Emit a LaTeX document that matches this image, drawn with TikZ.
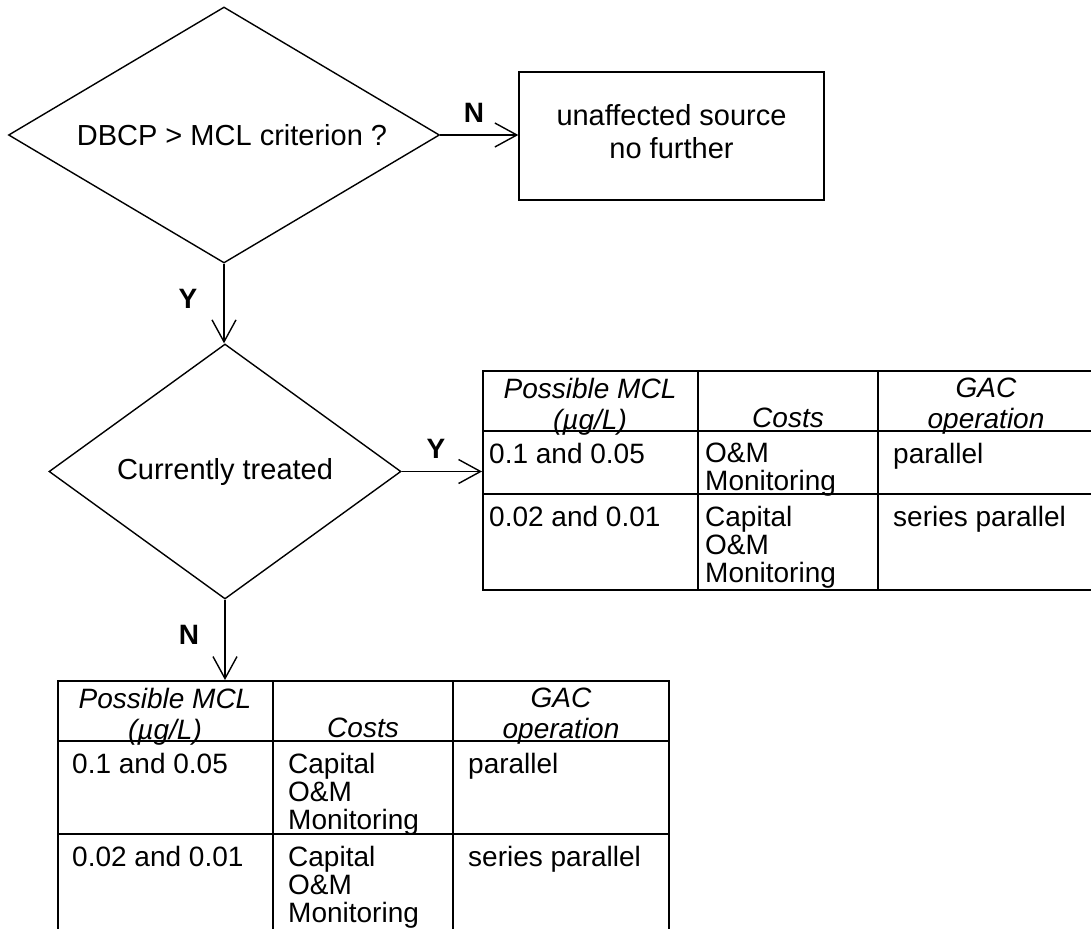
\documentclass[tikz,border=0pt]{standalone}
\usepackage{fontspec}
\setmainfont{Liberation Sans}
\usetikzlibrary{shapes.geometric,arrows.meta}

\begin{document}
\begin{tikzpicture}[x=1pt,y=-1pt,
    every node/.style={font=\fontsize{28}{31}\selectfont},
    decision/.style={diamond,draw,line width=1.4pt,inner sep=0pt,font=\fontsize{29}{33}\selectfont},
    flow/.style={line width=1.4pt,-{Straight Barb[length=22pt,width=24pt]}},
    tag/.style={font=\fontsize{28}{31}\selectfont\bfseries},
    tabline/.style={line width=2pt},
    hcell/.style={anchor=north,inner sep=0pt,align=center,font=\fontsize{28}{31}\selectfont\itshape,execute at begin node=\strut},
    dcell/.style={anchor=north west,inner sep=0pt,align=left,font=\fontsize{28}{28}\selectfont,execute at begin node=\strut}]
  \useasboundingbox (0,0) rectangle (1091,928);
  % name, corner, row 1 height, row 1 costs, left pad
  \def\mcltable#1#2#3#4#5{
    \begin{scope}[shift={#2}]
      \node[draw,line width=2pt,anchor=north west,inner sep=0pt,minimum width=611pt,minimum height={156pt+#3pt}] (#1) at (0,0) {};
      \draw[tabline] (216,0) -- (216,{156+#3});
      \draw[tabline] (396,0) -- (396,{156+#3});
      \draw[tabline] (0,61) -- (611,61);
      \draw[tabline] (0,{61+#3}) -- (611,{61+#3});
      \node[hcell] (#1-mcl) at (108,8) {Possible MCL\\(µg/L)};
      \node[hcell] (#1-cost) at (306,36) {Costs};
      \node[hcell] (#1-gac) at (504,8) {GAC\\operation};
      \node[dcell] (#1-a1) at (#5,73) {0.1 and 0.05};
      \node[dcell] (#1-b1) at ({216+#5},73) {#4};
      \node[dcell] (#1-c1) at (411,73) {parallel};
      \node[dcell] (#1-a2) at (#5,{73+#3}) {0.02 and 0.01};
      \node[dcell] (#1-b2) at ({216+#5},{73+#3}) {Capital\\O\&M\\Monitoring};
      \node[dcell] (#1-c2) at (411,{73+#3}) {series parallel};
    \end{scope}}

  \node[decision,aspect=1.68,minimum width=431pt,minimum height=256pt] (dbcp) at (224,135) {\hspace*{16pt}DBCP > MCL criterion ?};
  \node[draw,line width=1.4pt,minimum width=305pt,minimum height=128pt,align=center,font=\fontsize{29}{33}\selectfont] (unaff) at (671.5,136) {unaffected source\\no further\rule[-10pt]{0pt}{10pt}};
  \node[decision,aspect=1.38,minimum width=352pt,minimum height=255pt] (treated) at (225,471.5) {Currently treated};

  \mcltable{yesTab}{(482,370)}{63}{O\&M\\Monitoring}{7}
  \mcltable{noTab}{(57,680)}{93}{Capital\\O\&M\\Monitoring}{15}

  \draw[flow] (dbcp.east) -- (dbcp.east -| unaff.west);
  \draw[flow] (dbcp.south) -- (dbcp.south |- treated.north);
  \draw[flow] (treated.east) -- (treated.east -| yesTab.west);
  \draw[flow] (treated.south) -- (treated.south |- noTab.north);

  \node[tag] (nDbcp) at (474,113) {N};
  \node[tag] (yDbcp) at (188,299) {Y};
  \node[tag] (yTreated) at (436,449) {Y};
  \node[tag] (nTreated) at (189,635) {N};
\end{tikzpicture}
\end{document}
